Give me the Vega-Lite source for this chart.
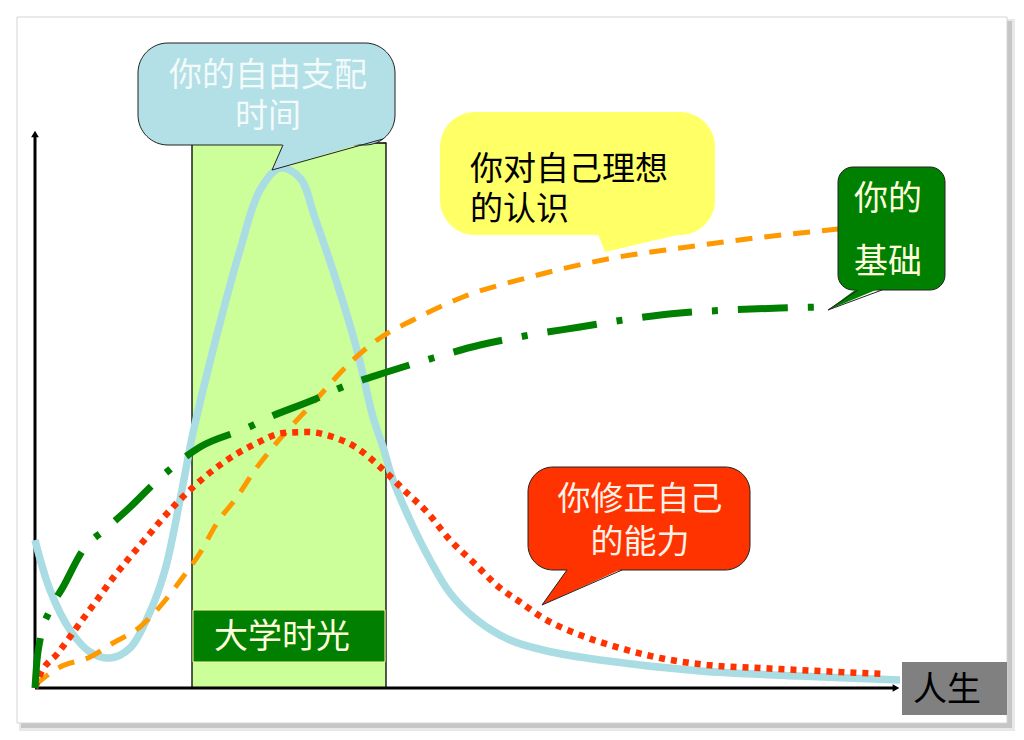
{
  "$schema": "https://vega.github.io/schema/vega-lite/v6.json",
  "width": 1024,
  "height": 740,
  "autosize": {"type": "fit", "contains": "padding"},
  "padding": 0,
  "background": "white",
  "config": {"view": {"stroke": null}, "text": {"font": "Noto Sans CJK SC"}},
  "encoding": {
    "x": {"field": "x", "type": "quantitative", "scale": {"domain": [-35, 989], "nice": false, "zero": false}, "axis": null},
    "y": {"field": "y", "type": "quantitative", "scale": {"domain": [-52, 688], "nice": false, "zero": false}, "axis": null}
  },
  "layer": [
    {"data": {"values": [{"x": -16, "y": -43, "x2": 980, "y2": 669}]},
     "mark": {"type": "rect", "color": "#e8e8e8"},
     "encoding": {"x2": {"field": "x2"}, "y2": {"field": "y2"}}},
    {"data": {"values": [{"x": -14, "y": -40, "x2": 977, "y2": 667}]},
     "mark": {"type": "rect", "color": "#c6c6c6"},
     "encoding": {"x2": {"field": "x2"}, "y2": {"field": "y2"}}},
    {"data": {"values": [{"x": -18, "y": -35, "x2": 972, "y2": 671}]},
     "mark": {"type": "rect", "fill": "white", "stroke": "#d4d4d4", "strokeWidth": 1},
     "encoding": {"x2": {"field": "x2"}, "y2": {"field": "y2"}}},
    {"data": {"values": [{"x": 157, "y": 0, "x2": 351, "y2": 545}]},
     "mark": {"type": "rect", "fill": "#CCFF99", "stroke": "black", "strokeWidth": 1.3},
     "encoding": {"x2": {"field": "x2"}, "y2": {"field": "y2"}}},
    {"data": {"values": [{"x": 158, "y": 26, "x2": 350, "y2": 78}]},
     "mark": {"type": "rect", "fill": "#007F00", "stroke": "#FFFF99", "strokeWidth": 1},
     "encoding": {"x2": {"field": "x2"}, "y2": {"field": "y2"}}},
    {"data": {"values": [{"x": 247, "y": 50, "t": "大学时光"}]},
     "mark": {"type": "text", "fontSize": 34, "color": "#FFFFDD", "align": "center", "baseline": "middle"},
     "encoding": {"text": {"field": "t"}}},
    {"data": {"values": [{"x": 0, "y": 0, "x2": 860, "y2": 0}, {"x": 0, "y": 0, "x2": 0, "y2": 553}]},
     "mark": {"type": "rule", "color": "black", "strokeWidth": 3},
     "encoding": {"x2": {"field": "x2"}, "y2": {"field": "y2"}}},
    {"data": {"values": [{"x": 861, "y": 0}]},
     "mark": {"type": "point", "shape": "triangle-right", "filled": true, "color": "black", "opacity": 1, "size": 60}},
    {"data": {"values": [{"x": 0, "y": 554}]},
     "mark": {"type": "point", "shape": "triangle-up", "filled": true, "color": "black", "opacity": 1, "size": 60}},
    {"data": {"values": [
      {"x": 0, "y": 148}, {"x": 15, "y": 98}, {"x": 35, "y": 58}, {"x": 55, "y": 36}, {"x": 75, "y": 30},
      {"x": 95, "y": 40}, {"x": 115, "y": 76}, {"x": 130, "y": 118}, {"x": 145, "y": 188}, {"x": 158, "y": 255},
      {"x": 178, "y": 338}, {"x": 205, "y": 438}, {"x": 225, "y": 498}, {"x": 245, "y": 520}, {"x": 265, "y": 510},
      {"x": 280, "y": 470}, {"x": 302, "y": 405}, {"x": 322, "y": 338}, {"x": 338, "y": 271}, {"x": 348, "y": 241},
      {"x": 358, "y": 208}, {"x": 375, "y": 168}, {"x": 395, "y": 128}, {"x": 415, "y": 95}, {"x": 442, "y": 68},
      {"x": 475, "y": 48}, {"x": 512, "y": 37}, {"x": 565, "y": 28}, {"x": 665, "y": 17}, {"x": 765, "y": 12}, {"x": 865, "y": 8}
    ]},
     "mark": {"type": "line", "color": "#A9DCE3", "strokeWidth": 7.5, "interpolate": "catmull-rom"}},
    {"data": {"values": [
      {"x": 0, "y": 3}, {"x": 25, "y": 21}, {"x": 55, "y": 31}, {"x": 78, "y": 45}, {"x": 105, "y": 61},
      {"x": 128, "y": 85}, {"x": 148, "y": 111}, {"x": 165, "y": 135}, {"x": 182, "y": 165}, {"x": 202, "y": 191},
      {"x": 220, "y": 218}, {"x": 238, "y": 241}, {"x": 278, "y": 285}, {"x": 318, "y": 328}, {"x": 345, "y": 350},
      {"x": 378, "y": 368}, {"x": 428, "y": 391}, {"x": 495, "y": 411}, {"x": 578, "y": 430}, {"x": 645, "y": 440},
      {"x": 712, "y": 449}, {"x": 803, "y": 459}
    ]},
     "mark": {"type": "line", "color": "#FF9900", "strokeWidth": 5, "strokeDash": [17, 12], "interpolate": "monotone"}},
    {"data": {"values": [
      {"x": 0, "y": 0}, {"x": 5, "y": 13}, {"x": 23, "y": 35}, {"x": 45, "y": 65}, {"x": 62, "y": 88},
      {"x": 78, "y": 110}, {"x": 95, "y": 131}, {"x": 112, "y": 151}, {"x": 128, "y": 170}, {"x": 155, "y": 198},
      {"x": 185, "y": 223}, {"x": 222, "y": 245}, {"x": 248, "y": 255}, {"x": 273, "y": 256}, {"x": 298, "y": 251},
      {"x": 322, "y": 240}, {"x": 343, "y": 223}, {"x": 372, "y": 195}, {"x": 392, "y": 176}, {"x": 415, "y": 148},
      {"x": 438, "y": 126}, {"x": 465, "y": 100}, {"x": 485, "y": 86}, {"x": 508, "y": 70}, {"x": 545, "y": 53},
      {"x": 585, "y": 40}, {"x": 625, "y": 30}, {"x": 672, "y": 23}, {"x": 725, "y": 20}, {"x": 805, "y": 16}, {"x": 850, "y": 14}
    ]},
     "mark": {"type": "line", "color": "#FF3300", "strokeWidth": 6.5, "strokeDash": [6, 6], "interpolate": "monotone"}},
    {"data": {"values": [
      {"x": 0, "y": 0}, {"x": 2, "y": 28}, {"x": 5, "y": 48}, {"x": 15, "y": 78}, {"x": 28, "y": 101},
      {"x": 48, "y": 138}, {"x": 72, "y": 160}, {"x": 92, "y": 178}, {"x": 125, "y": 210}, {"x": 165, "y": 241},
      {"x": 212, "y": 260}, {"x": 235, "y": 271}, {"x": 278, "y": 288}, {"x": 305, "y": 300}, {"x": 352, "y": 316},
      {"x": 398, "y": 330}, {"x": 445, "y": 343}, {"x": 495, "y": 353}, {"x": 545, "y": 361}, {"x": 595, "y": 369},
      {"x": 645, "y": 375}, {"x": 695, "y": 378}, {"x": 745, "y": 380}, {"x": 793, "y": 381}
    ]},
     "mark": {"type": "line", "color": "#008000", "strokeWidth": 7, "strokeDash": [50, 20, 6, 20], "interpolate": "monotone"}},
    {"data": {"values": [{"x": 103, "y": 543, "x2": 360, "y2": 645}]},
     "mark": {"type": "rect", "fill": "#B3DFE6", "stroke": "#222222", "strokeWidth": 1, "cornerRadius": 30},
     "encoding": {"x2": {"field": "x2"}, "y2": {"field": "y2"}}},
    {"data": {"values": [{"x": 237, "y": 518, "y2": 518}, {"x": 249, "y": 547, "y2": 521.6}, {"x": 348, "y": 551, "y2": 551}]},
     "mark": {"type": "area", "color": "#B3DFE6", "opacity": 1},
     "encoding": {"y2": {"field": "y2"}}},
    {"data": {"values": [{"x": 405, "y": 453, "x2": 680, "y2": 576}]},
     "mark": {"type": "rect", "fill": "#FFFF66", "cornerRadius": 35},
     "encoding": {"x2": {"field": "x2"}, "y2": {"field": "y2"}}},
    {"data": {"values": [{"x": 562, "y": 456, "y2": 456}, {"x": 570, "y": 436, "y2": 456}, {"x": 655, "y": 456, "y2": 456}]},
     "mark": {"type": "area", "color": "#FFFF66", "opacity": 1},
     "encoding": {"y2": {"field": "y2"}}},
    {"data": {"values": [{"x": 803, "y": 398, "x2": 910, "y2": 521}]},
     "mark": {"type": "rect", "fill": "#008000", "stroke": "#222222", "strokeWidth": 1, "cornerRadius": 15},
     "encoding": {"x2": {"field": "x2"}, "y2": {"field": "y2"}}},
    {"data": {"values": [{"x": 793, "y": 378, "y2": 378}, {"x": 824, "y": 401, "y2": 391}, {"x": 848, "y": 401, "y2": 401}]},
     "mark": {"type": "area", "color": "#008000", "opacity": 1},
     "encoding": {"y2": {"field": "y2"}}},
    {"data": {"values": [{"x": 493, "y": 118, "x2": 715, "y2": 221}]},
     "mark": {"type": "rect", "fill": "#FF3300", "stroke": "#222222", "strokeWidth": 1, "cornerRadius": 25},
     "encoding": {"x2": {"field": "x2"}, "y2": {"field": "y2"}}},
    {"data": {"values": [{"x": 507, "y": 83, "y2": 83}, {"x": 534, "y": 121, "y2": 95}, {"x": 591, "y": 121, "y2": 121}]},
     "mark": {"type": "area", "color": "#FF3300", "opacity": 1},
     "encoding": {"y2": {"field": "y2"}}},
    {"data": {"values": [
      {"x": 248, "y": 543, "x2": 237, "y2": 518}, {"x": 237, "y": 518, "x2": 348, "y2": 549},
      {"x": 823, "y": 398, "x2": 793, "y2": 378}, {"x": 793, "y": 378, "x2": 847, "y2": 398},
      {"x": 532, "y": 118, "x2": 507, "y2": 83}, {"x": 507, "y": 83, "x2": 587, "y2": 118}
    ]},
     "mark": {"type": "rule", "color": "#222222", "strokeWidth": 1},
     "encoding": {"x2": {"field": "x2"}, "y2": {"field": "y2"}}},
    {"data": {"values": [{"x": 233, "y": 612, "t": "你的自由支配\n时间"}]},
     "mark": {"type": "text", "fontSize": 33, "color": "#F2FAFA", "align": "center", "baseline": "middle", "lineBreak": "\n", "lineHeight": 41},
     "encoding": {"text": {"field": "t"}}},
    {"data": {"values": [{"x": 435, "y": 518, "t": "你对自己理想\n的认识"}]},
     "mark": {"type": "text", "fontSize": 33, "color": "#000000", "align": "left", "baseline": "middle", "lineBreak": "\n", "lineHeight": 40},
     "encoding": {"text": {"field": "t"}}},
    {"data": {"values": [{"x": 853, "y": 488, "t": "你的"}, {"x": 853, "y": 425, "t": "基础"}]},
     "mark": {"type": "text", "fontSize": 34, "color": "#FFFFDD", "align": "center", "baseline": "middle"},
     "encoding": {"text": {"field": "t"}}},
    {"data": {"values": [{"x": 605, "y": 188, "t": "你修正自己\n的能力"}]},
     "mark": {"type": "text", "fontSize": 33, "color": "#FFF2E6", "align": "center", "baseline": "middle", "lineBreak": "\n", "lineHeight": 43},
     "encoding": {"text": {"field": "t"}}},
    {"data": {"values": [{"x": 867, "y": -27, "x2": 972, "y2": 26}]},
     "mark": {"type": "rect", "fill": "#808080"},
     "encoding": {"x2": {"field": "x2"}, "y2": {"field": "y2"}}},
    {"data": {"values": [{"x": 912, "y": -3, "t": "人生"}]},
     "mark": {"type": "text", "fontSize": 34, "color": "#000000", "align": "center", "baseline": "middle"},
     "encoding": {"text": {"field": "t"}}}
  ]
}
